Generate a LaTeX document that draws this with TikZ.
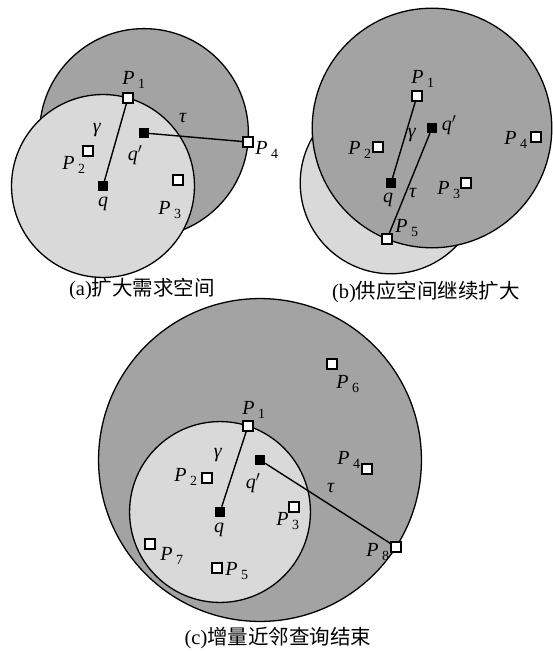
\documentclass[tikz,border=0pt]{standalone}
\usepackage{fontspec}
\setmainfont{Liberation Serif}
\newfontfamily\cjk{Noto Sans CJK SC}
\usetikzlibrary{calc,backgrounds}
\definecolor{outergray}{gray}{0.64}
\definecolor{innergray}{gray}{0.85}
\newcommand{\Pn}[1]{\textit{P}\,\textsubscript{#1}}

\begin{document}
\begin{tikzpicture}[x=1pt,y=-1pt,
    pnt/.style={draw,fill=white,minimum size=10pt,inner sep=0pt,line width=1.2pt},
    qry/.style={fill=black,minimum size=10pt,inner sep=0pt},
    lbl/.style={font=\fontsize{20}{22}\selectfont,inner sep=0pt},
    captxt/.style={font=\fontsize{20.5}{23}\selectfont,inner sep=0pt},
    ring/.style={draw,line width=1.3pt},
    seg/.style={line width=1.4pt}
]
\useasboundingbox (0,0) rectangle (552,652);

% (a) demand space grows
\node[qry] (qA) at (103,186) {};
\node[qry] (qpA) at (144,133) {};
\node[pnt] (P1A) at (128,98) {};
\node[pnt] (P2A) at (88,151) {};
\node[pnt] (P3A) at (178,180) {};
\node[pnt] (P4A) at (248,142) {};
\begin{scope}[on background layer]
\path[ring,fill=outergray] let \p1=($(P4A)-(qpA)$), \n1={veclen(\x1,\y1)} in (qpA) circle[radius=\n1];
\path[ring,fill=innergray] let \p1=($(P1A)-(qA)$), \n1={veclen(\x1,\y1)} in (qA) circle[radius=\n1];
\end{scope}
\draw[seg] (qA) -- (P1A);
\draw[seg] (qpA) -- (P4A);
\node[lbl] (lP1A) at (134,80) {\Pn{1}};
\node[lbl] (lP2A) at (74,165) {\Pn{2}};
\node[lbl] (lP3A) at (170,210) {\Pn{3}};
\node[lbl] (lP4A) at (267,150) {\Pn{4}};
\node[lbl] (lqA) at (103,204) {\textit{q}};
\node[lbl] (lqpA) at (135,155) {\textit{q}$'$};
\node[lbl] (gA) at (97,130) {\textit{γ}};
\node[lbl] (tA) at (183,118) {\textit{τ}};
\node[captxt] (capA) at (142,289) {(a){\cjk 扩大需求空间}};

% (b) supply space keeps growing
\node[qry] (qB) at (391,183) {};
\node[qry] (qpB) at (432,128) {};
\node[pnt] (P1B) at (417,96) {};
\node[pnt] (P2B) at (378,147) {};
\node[pnt] (P3B) at (466,183) {};
\node[pnt] (P4B) at (536,137) {};
\node[pnt] (P5B) at (387,239) {};
\begin{scope}[on background layer]
\path[ring,fill=innergray] let \p1=($(P1B)-(qB)$), \n1={veclen(\x1,\y1)} in (qB) circle[radius=\n1];
\path[ring,fill=outergray] let \p1=($(P5B)-(qpB)$), \n1={veclen(\x1,\y1)} in (qpB) circle[radius=\n1];
\end{scope}
\draw[seg] (qB) -- (P1B);
\draw[seg] (qpB) -- (P5B);
\node[lbl] (lP1B) at (423,79) {\Pn{1}};
\node[lbl] (lP2B) at (360,150) {\Pn{2}};
\node[lbl] (lP3B) at (449,190) {\Pn{3}};
\node[lbl] (lP4B) at (516,140) {\Pn{4}};
\node[lbl] (lP5B) at (407,228) {\Pn{5}};
\node[lbl] (lqB) at (388,200) {\textit{q}};
\node[lbl] (lqpB) at (449,125) {\textit{q}$'$};
\node[lbl] (gB) at (412,135) {\textit{γ}};
\node[lbl] (tB) at (413,193) {\textit{τ}};
\node[captxt] (capB) at (426,292) {(b){\cjk 供应空间继续扩大}};

% (c) incremental kNN query ends
\node[qry] (qC) at (220,512) {};
\node[qry] (qpC) at (260,460) {};
\node[pnt] (P1C) at (248,426) {};
\node[pnt] (P2C) at (207,478) {};
\node[pnt] (P3C) at (294,507) {};
\node[pnt] (P4C) at (367,469) {};
\node[pnt] (P5C) at (217,568) {};
\node[pnt] (P6C) at (332,364) {};
\node[pnt] (P7C) at (150,544) {};
\node[pnt] (P8C) at (396,547) {};
\begin{scope}[on background layer]
\path[ring,fill=outergray] let \p1=($(P8C)-(qpC)$), \n1={veclen(\x1,\y1)} in (qpC) circle[radius=\n1];
\path[ring,fill=innergray] let \p1=($(P1C)-(qC)$), \n1={veclen(\x1,\y1)} in (qC) circle[radius=\n1];
\end{scope}
\draw[seg] (qC) -- (P1C);
\draw[seg] (qpC) -- (P8C);
\node[lbl] (lP1C) at (254,410) {\Pn{1}};
\node[lbl] (lP2C) at (186,477) {\Pn{2}};
\node[lbl] (lP3C) at (288,521) {\Pn{3}};
\node[lbl] (lP4C) at (349,460) {\Pn{4}};
\node[lbl] (lP5C) at (237,571) {\Pn{5}};
\node[lbl] (lP6C) at (348,384) {\Pn{6}};
\node[lbl] (lP7C) at (172,556) {\Pn{7}};
\node[lbl] (lP8C) at (378,552) {\Pn{8}};
\node[lbl] (lqC) at (219,530) {\textit{q}};
\node[lbl] (lqpC) at (253,483) {\textit{q}$'$};
\node[lbl] (gC) at (218,455) {\textit{γ}};
\node[lbl] (tC) at (331,488) {\textit{τ}};
\node[captxt] (capC) at (278,638) {(c){\cjk 增量近邻查询结束}};
\end{tikzpicture}
\end{document}
